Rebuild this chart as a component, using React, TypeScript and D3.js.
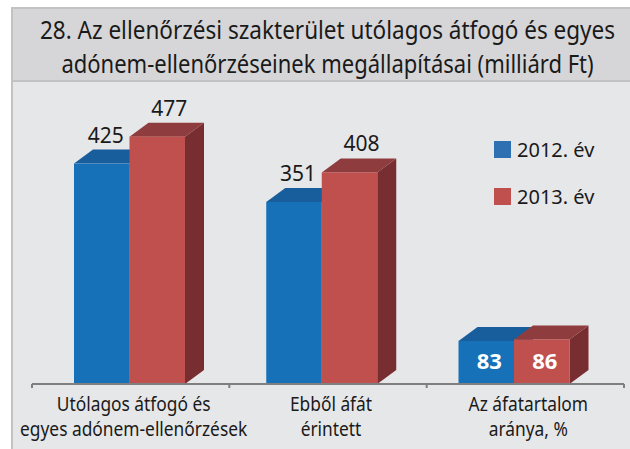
import React, { useLayoutEffect, useRef, useState } from "react";
import * as d3 from "d3";

const titleLines = [
  "28. Az ellenőrzési szakterület utólagos átfogó és egyes",
  "adónem-ellenőrzéseinek megállapításai (milliárd Ft)",
];
const titleWidths = [575, 532];
const categories = ["cat1", "cat2", "cat3"];
const categoryLabels = [
  ["Utólagos átfogó és", "egyes adónem-ellenőrzések"],
  ["Ebből áfát", "érintett"],
  ["Az áfatartalom", "aránya, %"],
];
const seriesNames = ["2012. év", "2013. év"];
const values2012 = [425, 351, 83];
const values2013 = [477, 408, 86];
const labelInside = [false, false, true];

const W = 630;
const H = 449;
const baseY = 384;
const barW = 55.5;
const dx = 19;
const dy = 14;

const colors = [
  { front: "#1671b8", top: "#195e9c", side: "#124d80", legend: "#2e70b2" },
  { front: "#c0504e", top: "#8e3c3d", side: "#782d31", legend: "#c0504d" },
];

export default function App() {
  const y = d3.scaleLinear().domain([0, 500]).range([baseY, baseY - 259.3]);
  const xGroup = d3.scalePoint<string>().domain(categories).range([129.5, 514]);
  const xAxis = d3.scaleBand<string>().domain(categories).range([32, 624]);
  const series = [values2012, values2013];
  const font = "'Noto Sans', sans-serif";
  const border = "#c2c2c4";

  const titleRefs = useRef<(SVGTextElement | null)[]>([]);
  const [titleScales, setTitleScales] = useState<number[]>([0.85, 0.85]);
  useLayoutEffect(() => {
    const s = titleRefs.current.map((el, i) => {
      if (!el) return 0.85;
      const w = el.getComputedTextLength();
      return w > 0 ? titleWidths[i] / w : 0.85;
    });
    setTitleScales(s);
  }, []);

  return (
    <svg
      width={W}
      height={H}
      style={{ position: "absolute", left: 0, top: 0 }}
      fontFamily={font}
    >
      <rect x={0} y={0} width={W} height={H} fill="#ffffff" />
      <rect x={12} y={8} width={W - 12} height={H - 8} fill="#e6e7e9" />
      <rect x={12} y={8} width={W - 12} height={73} fill="#d6d6d8" />
      <line x1={12} x2={W} y1={8} y2={8} stroke={border} strokeWidth={2} />
      <line x1={12} x2={W} y1={81} y2={81} stroke={border} strokeWidth={2} />
      <line x1={12} x2={12} y1={7} y2={H} stroke={border} strokeWidth={2} />
      {titleLines.map((t, i) => (
        <g key={i} transform={`translate(327.5,${39 + i * 34}) scale(${titleScales[i]},1)`}>
          <text
            ref={(el) => {
              titleRefs.current[i] = el;
            }}
            x={0}
            y={0}
            textAnchor="middle"
            fontSize={26}
            fill="#1a1a1a"
          >
            {t}
          </text>
        </g>
      ))}

      {/* bars */}
      {categories.map((c, ci) => {
        const gx = xGroup(c)!;
        return (
          <g key={c}>
            {series.map((vals, si) => {
              const x0 = gx - barW + si * barW;
              const x1 = x0 + barW;
              const yt = y(vals[ci]);
              const col = colors[si];
              const top = `${x0},${yt} ${x0 + dx},${yt - dy} ${x1 + dx},${yt - dy} ${x1},${yt}`;
              const side = `${x1},${yt} ${x1 + dx},${yt - dy} ${x1 + dx},${baseY - dy} ${x1},${baseY}`;
              return (
                <g key={si}>
                  <polygon points={side} fill={col.side} />
                  <polygon points={top} fill={col.top} />
                  <rect x={x0} y={yt} width={barW} height={baseY - yt} fill={col.front} />
                </g>
              );
            })}
            {series.map((vals, si) => {
              const x0 = gx - barW + si * barW;
              const cx = x0 + barW / 2;
              const yt = y(vals[ci]);
              if (labelInside[ci]) {
                return (
                  <text
                    key={"l" + si}
                    x={cx + 3}
                    y={369}
                    textAnchor="middle"
                    fontSize={22}
                    fontWeight="bold"
                    fill="#ffffff"
                  >
                    {vals[ci]}
                  </text>
                );
              }
              return (
                <text
                  key={"l" + si}
                  x={cx + (si === 0 ? 4 : 12)}
                  y={yt - dy - 7}
                  textAnchor="middle"
                  fontSize={21}
                  fill="#1a1a1a"
                >
                  {vals[ci]}
                </text>
              );
            })}
          </g>
        );
      })}

      {/* axis */}
      <line x1={32} x2={624} y1={baseY} y2={baseY} stroke="#7f7f7f" strokeWidth={2} />
      {[...categories.map((c) => xAxis(c)!), 624].map((t, i) => (
        <line key={i} x1={t} x2={t} y1={baseY} y2={baseY + 4} stroke="#7f7f7f" strokeWidth={2} />
      ))}
      {categories.map((c, ci) => {
        const cx = xAxis(c)! + xAxis.bandwidth() / 2 + 3;
        return categoryLabels[ci].map((line, li) => (
          <g key={c + li} transform={`translate(${cx},${411 + li * 25}) scale(0.89,1)`}>
            <text x={0} y={0} textAnchor="middle" fontSize={19.5} fill="#1a1a1a">
              {line}
            </text>
          </g>
        ));
      })}

      {/* legend */}
      {seriesNames.map((s, i) => (
        <g key={s}>
          <rect x={494} y={141 + i * 47} width={17} height={17} fill={colors[i].legend} />
          <text x={517} y={157 + i * 47} fontSize={20} fill="#1a1a1a">
            {s}
          </text>
        </g>
      ))}
    </svg>
  );
}
